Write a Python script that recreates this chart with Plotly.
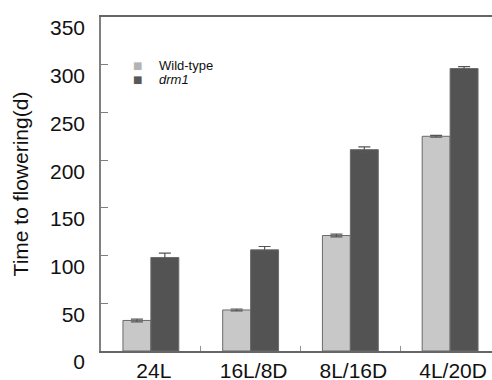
import plotly.graph_objects as go

categories = ["24L", "16L/8D", "8L/16D", "4L/20D"]
series_names = ["Wild-type", "drm1"]
wild_type = [32, 43, 121, 225]
wild_type_err = [1.5, 1, 1.5, 1]
drm1 = [98, 106, 211, 296]
drm1_err = [4.5, 3.5, 3, 2]
y_ticks = [0, 50, 100, 150, 200, 250, 300, 350]

colors = ["#c8c8c8", "#535353"]
legend_colors = ["#b4b4b4", "#585858"]

fig = go.Figure()
for name, vals, errs, col in [
    (series_names[0], wild_type, wild_type_err, colors[0]),
    (series_names[1], drm1, drm1_err, colors[1]),
]:
    fig.add_trace(go.Bar(
        x=categories, y=vals, name=name,
        marker=dict(color=col, line=dict(color="#6a6a6a", width=1)),
        error_y=dict(type="data", array=errs, visible=True,
                     color="#555555", thickness=1.2, width=6),
        showlegend=False,
    ))

# legend drawn as text (squares + labels)
leg_font = "Liberation Sans, Arial, sans-serif"
for i, (name, lc) in enumerate(zip(series_names, legend_colors)):
    label = name if i == 0 else "<i>" + name + "</i>"
    fig.add_annotation(xref="paper", yref="paper", x=0.093, y=0.855 - i * 0.042,
                       text="■", showarrow=False, xanchor="center", yanchor="middle",
                       font=dict(size=10, color=lc, family="DejaVu Sans"))
    fig.add_annotation(xref="paper", yref="paper", x=0.143, y=0.855 - i * 0.042,
                       text=label, showarrow=False, xanchor="left", yanchor="middle",
                       font=dict(size=13, color="#111111", family=leg_font))

fig.update_layout(
    width=492, height=380,
    margin=dict(l=101, r=0, t=17, b=29),
    paper_bgcolor="white", plot_bgcolor="white",
    barmode="group", bargap=0.44, bargroupgap=0,
    font=dict(family="Liberation Sans, Arial, sans-serif", size=21, color="#111111"),
    xaxis=dict(
        type="category", range=[-0.5, 3.42], automargin=False,
        showline=True, linecolor="#666666", linewidth=1.5, mirror=True,
        ticks="inside", tickson="boundaries", ticklen=5, tickcolor="#909090",
        tickwidth=1, showgrid=False, zeroline=False,
        tickfont=dict(size=21), ticklabelshift=3, ticklabelstandoff=0,
        ticklabeloverflow="allow",
    ),
    yaxis=dict(
        range=[0, 350.01], tickvals=y_ticks, automargin=False,
        showline=True, linecolor="#808080", linewidth=1.5,
        ticks="inside", ticklen=7, tickcolor="#808080", tickwidth=1.2,
        showgrid=False, zeroline=False,
        tickfont=dict(size=21), ticklabelshift=11, ticklabelstandoff=10,
        ticklabeloverflow="allow",
        title=dict(text="Time to flowering(d)", font=dict(size=21), standoff=16),
    ),
)

fig.write_html(
    "out.html",
    config={"displayModeBar": False},
    post_script="document.body.style.margin='0';document.body.style.overflow='hidden';",
)
